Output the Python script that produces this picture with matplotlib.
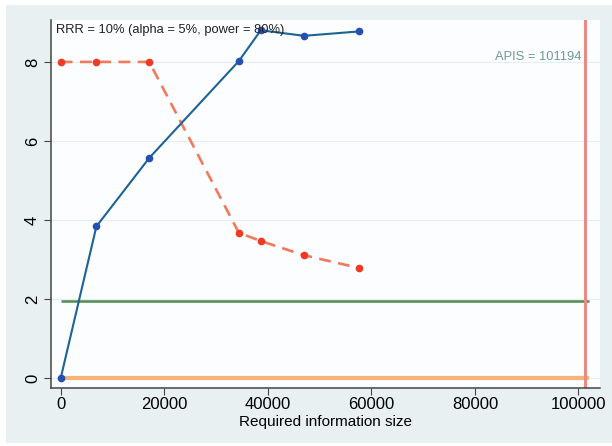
import matplotlib
matplotlib.use('Agg')
import matplotlib.pyplot as plt
from matplotlib.patches import Rectangle

plt.rcParams['font.family'] = ['Liberation Sans', 'DejaVu Sans']

# --- data ---
info_size = [0, 6900, 17100, 34400, 38650, 47000, 57550]
z_cum = [0, 3.84, 5.57, 8.02, 8.80, 8.66, 8.77]
boundary = [8, 8, 8, 3.68, 3.47, 3.11, 2.79]
apis = 101194
z_crit = 1.96
ref_line_end = 102100   # horizontal reference lines stop just past APIS
x_ticks = [0, 20000, 40000, 60000, 80000, 100000]
y_ticks = [0, 2, 4, 6, 8]

fig = plt.figure(figsize=(6.12, 4.46), dpi=100, facecolor='white')
# light outer background, slightly inset like the reference
fig.patches.append(Rectangle((6 / 612, 3 / 446), 606 / 612, 438 / 446,
                             transform=fig.transFigure, facecolor='#e8f0f2',
                             edgecolor='none', zorder=-5))
ax = fig.add_axes([51 / 612, 58.3 / 446, 549 / 612, 367.7 / 446])
ax.set_zorder(1)
ax.set_facecolor('#fcfdfe')

# grid lines at y ticks
for y in y_ticks:
    ax.axhline(y, color='#e2eef5', lw=0.8, zorder=1)

ax.hlines(0, 0, ref_line_end, color='#f5b47a', lw=3, zorder=2)
ax.hlines(z_crit, 0, ref_line_end, color='#4f8a4f', lw=1.8, zorder=2)
ax.axvline(apis, color='#e98a85', lw=2.2, zorder=2)

ax.plot(info_size, boundary, '--', color='#f27a5c', lw=1.9, dashes=(4.5, 2.8),
        marker='o', ms=4.5, mfc='#ee3a25', mec='#ee3a25', zorder=3)
ax.plot(info_size, z_cum, '-', color='#1d6396', lw=1.5,
        marker='o', ms=4.5, mfc='#2450b4', mec='#2450b4', zorder=4)

ax.text(-1000, 8.97, 'RRR = 10% (alpha = 5%, power = 80%)', fontsize=9.3,
        color='#222222', va='top', ha='left', zorder=5)
ax.text(apis - 700, 8.13, 'APIS = 101194', fontsize=9.3, color='#6f9a92',
        va='center', ha='right', zorder=5)

ax.set_xlim(-1870, 104160)
ax.set_ylim(-0.24, 9.06)
ax.set_xticks(x_ticks)
ax.set_yticks(y_ticks)
ax.tick_params(axis='y', labelrotation=90, labelsize=12, length=5, pad=3,
               color='#444444')
ax.tick_params(axis='x', labelsize=12, length=5, pad=2, color='#444444')
for lbl in ax.get_yticklabels():
    lbl.set_va('center')
ax.set_xlabel('Required information size', fontsize=11, labelpad=1.5)

for side in ['top', 'right']:
    ax.spines[side].set_visible(False)
for side in ['left', 'bottom']:
    ax.spines[side].set_color('#444444')
    ax.spines[side].set_linewidth(1.1)

fig.savefig('out.png', dpi=100, facecolor=fig.get_facecolor())
